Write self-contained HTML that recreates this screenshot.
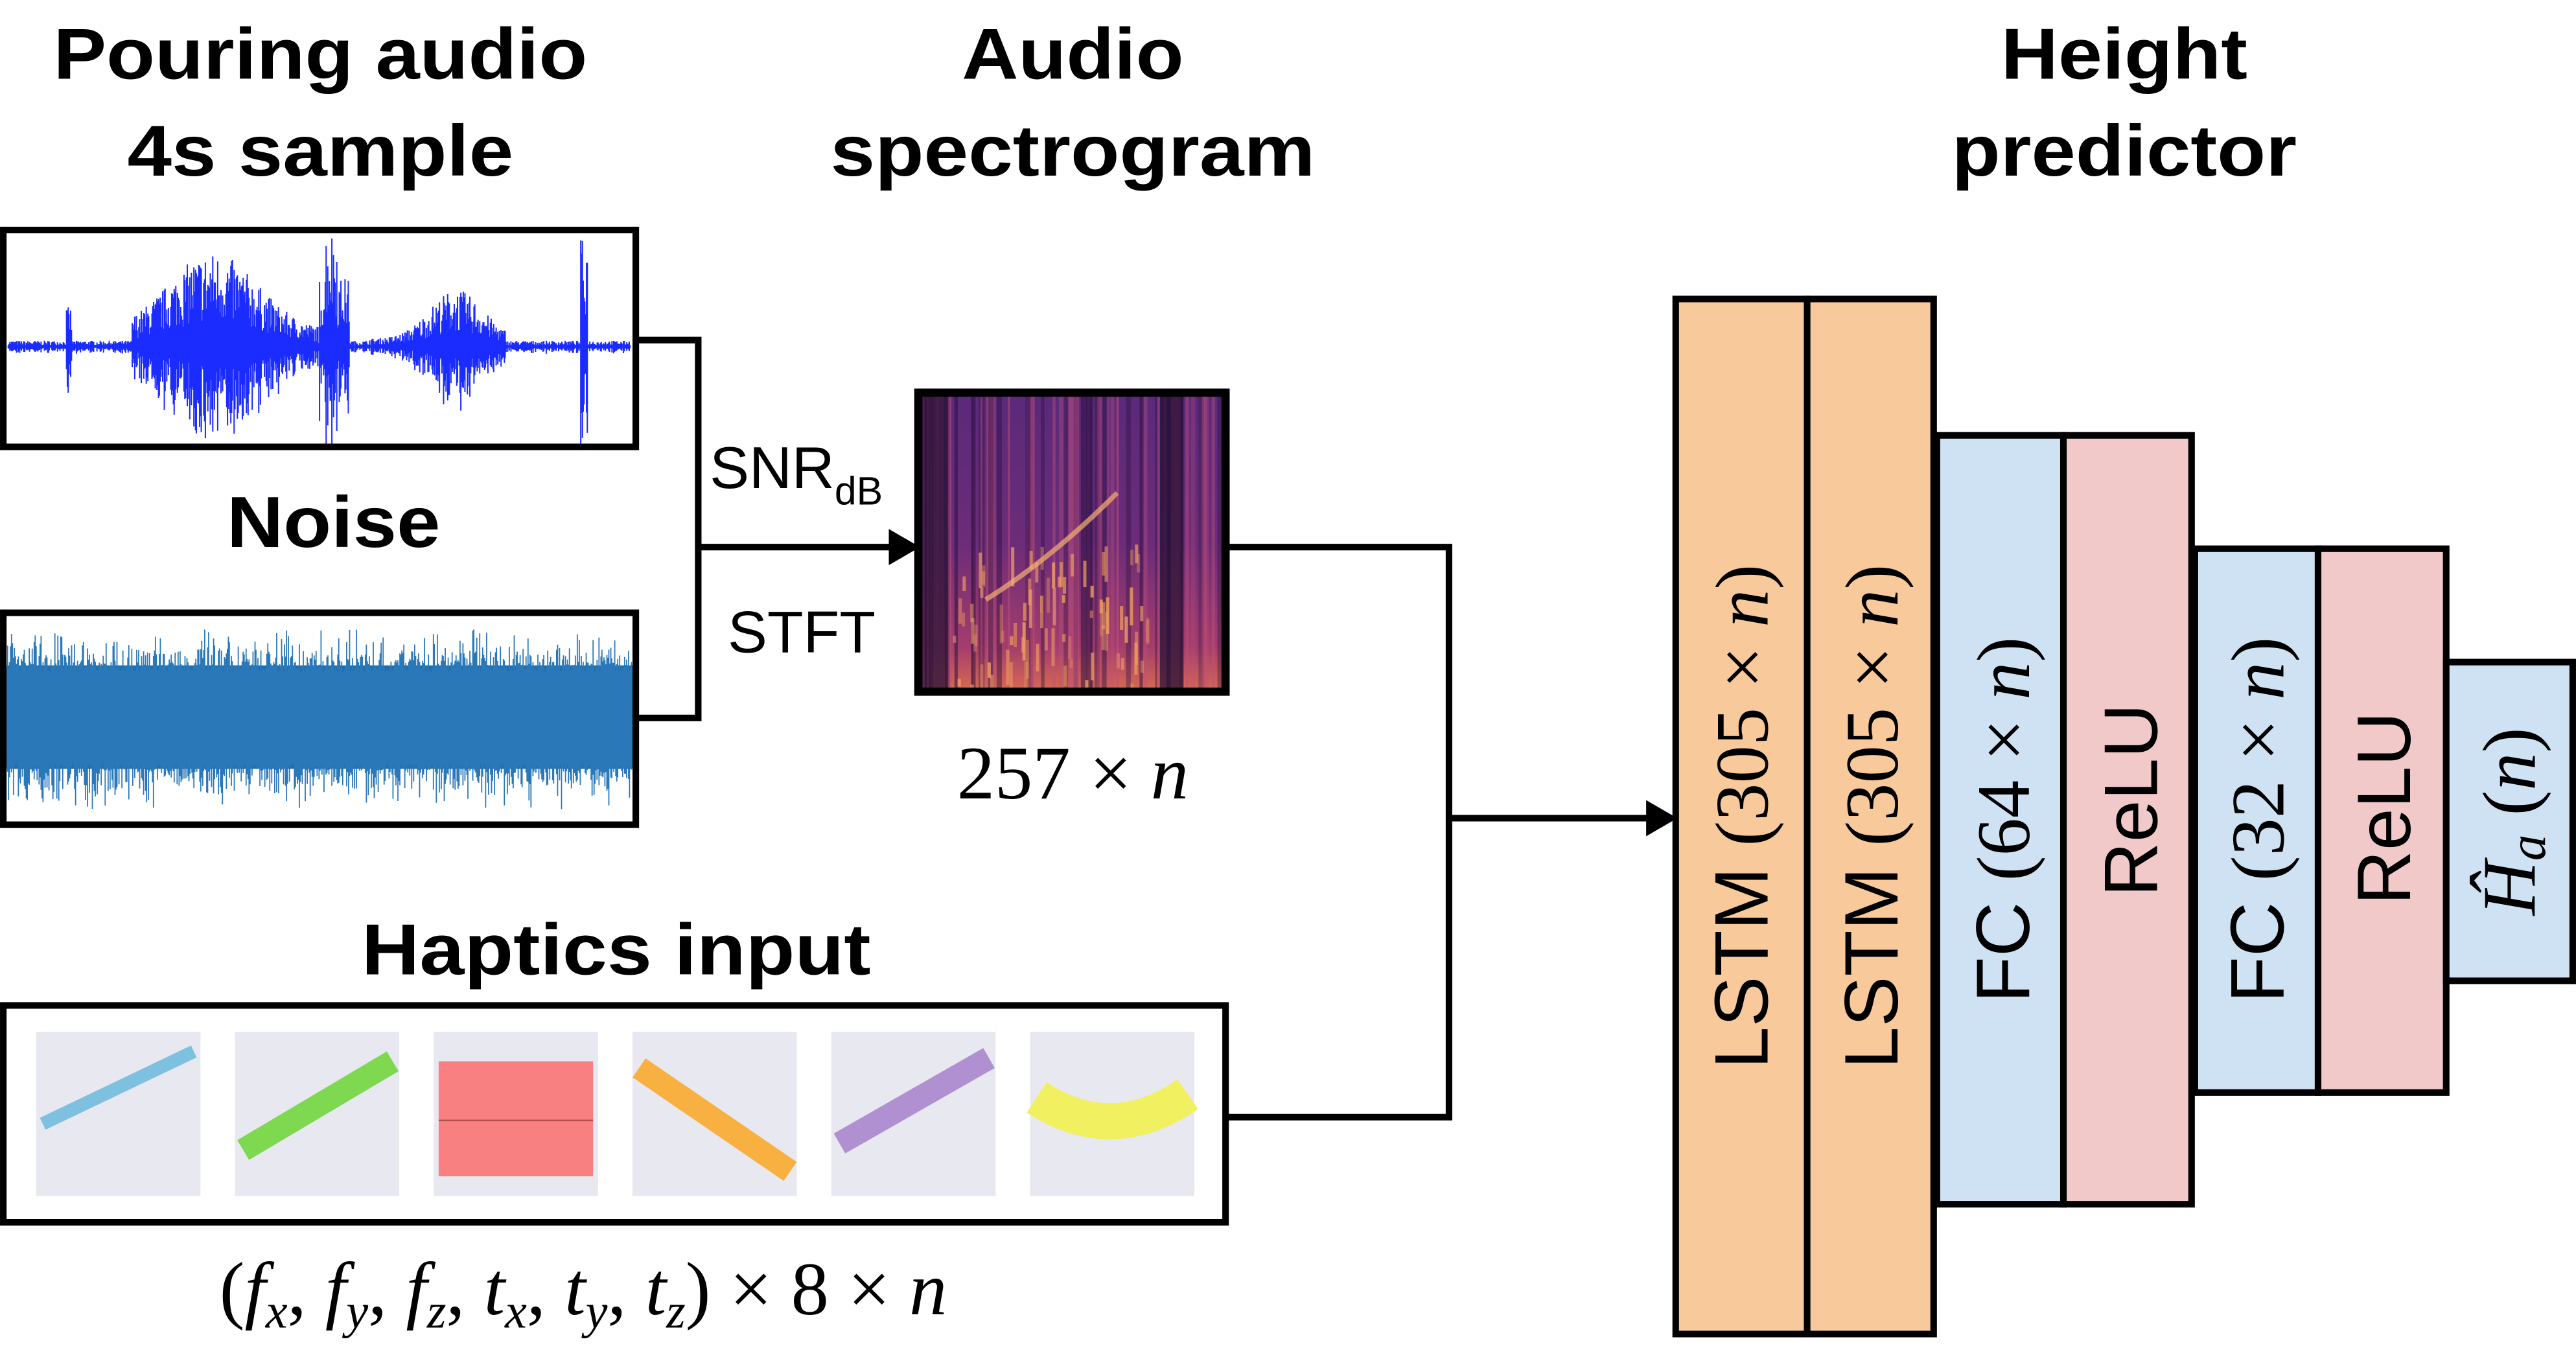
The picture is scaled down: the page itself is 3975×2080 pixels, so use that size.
<!DOCTYPE html>
<html><head><meta charset="utf-8"><style>
html,body{margin:0;padding:0;background:#fff}
svg{display:block}
.t{font-family:"Liberation Sans",sans-serif;font-weight:bold;font-size:44px;text-anchor:middle}
.s{font-family:"Liberation Sans",sans-serif;font-size:36px}
.m{font-family:"Liberation Serif",serif;font-size:46px}
.i{font-style:italic}
</style></head><body>
<svg id="sv" width="3975" height="2080" viewBox="0 0 1568 820.5" xmlns="http://www.w3.org/2000/svg">
<defs>
<linearGradient id="sg" x1="0" y1="0" x2="0" y2="1">
<stop offset="0" stop-color="#5a2a7a"/><stop offset="0.5" stop-color="#6b2c78"/><stop offset="0.85" stop-color="#a33d6c"/><stop offset="1" stop-color="#d86a50"/>
</linearGradient>
<clipPath id="c1"><rect x="2" y="140" width="385" height="132"/></clipPath>
<clipPath id="c2"><rect x="2" y="373" width="385" height="129"/></clipPath>
<clipPath id="c3"><rect x="559" y="239" width="187" height="182"/></clipPath>
</defs>
<text class="t" x="195" y="48" textLength="325" lengthAdjust="spacingAndGlyphs">Pouring audio</text>
<text class="t" x="195" y="107" textLength="235" lengthAdjust="spacingAndGlyphs">4s sample</text>
<text class="t" x="653" y="48" textLength="135" lengthAdjust="spacingAndGlyphs">Audio</text>
<text class="t" x="653" y="107" textLength="295" lengthAdjust="spacingAndGlyphs">spectrogram</text>
<text class="t" x="1293" y="48" textLength="150" lengthAdjust="spacingAndGlyphs">Height</text>
<text class="t" x="1293" y="107" textLength="210" lengthAdjust="spacingAndGlyphs">predictor</text>
<text class="t" x="203" y="333" textLength="130" lengthAdjust="spacingAndGlyphs">Noise</text>
<text class="t" x="375" y="593" textLength="310" lengthAdjust="spacingAndGlyphs">Haptics input</text>

<g id="wave1" clip-path="url(#c1)"></g>
<g id="wave2" clip-path="url(#c2)"></g>
<rect x="2" y="140" width="385" height="132" fill="none" stroke="#000" stroke-width="4"/>
<rect x="2" y="373" width="385" height="129" fill="none" stroke="#000" stroke-width="4"/>

<g fill="none" stroke="#000" stroke-width="4">
<polyline points="387,207 425,207 425,437 387,437"/>
<line x1="425" y1="333" x2="545" y2="333"/>
<polyline points="746,333 882,333 882,680 746,680"/>
<line x1="882" y1="498" x2="1008" y2="498"/>
</g>
<polygon points="541,322 560,333 541,344" fill="#000"/>
<polygon points="1002,487 1021,498 1002,509" fill="#000"/>
<text class="s" x="432" y="297">SNR<tspan font-size="24" dy="10">dB</tspan></text>
<text class="s" x="443" y="397">STFT</text>

<g clip-path="url(#c3)">
<rect x="559" y="239" width="187" height="182" fill="url(#sg)"/>
<g id="spec"></g>
</g>
<rect x="559" y="239" width="187" height="182" fill="none" stroke="#000" stroke-width="5"/>
<text class="m" x="653" y="486" text-anchor="middle">257 × <tspan class="i">n</tspan></text>

<rect x="2" y="612" width="744" height="132" fill="#fff" stroke="#000" stroke-width="4"/>
<g id="hap"></g>
<text class="m" x="355" y="800" text-anchor="middle">(<tspan class="i">f<tspan font-size="30" dy="8">x</tspan></tspan><tspan dy="-8">, </tspan><tspan class="i">f<tspan font-size="30" dy="8">y</tspan></tspan><tspan dy="-8">, </tspan><tspan class="i">f<tspan font-size="30" dy="8">z</tspan></tspan><tspan dy="-8">, </tspan><tspan class="i">t<tspan font-size="30" dy="8">x</tspan></tspan><tspan dy="-8">, </tspan><tspan class="i">t<tspan font-size="30" dy="8">y</tspan></tspan><tspan dy="-8">, </tspan><tspan class="i">t<tspan font-size="30" dy="8">z</tspan></tspan><tspan dy="-8">) × 8 × </tspan><tspan class="i">n</tspan></text>

<g stroke="#000" stroke-width="4">
<rect x="1020" y="182" width="80" height="630" fill="#f8c99b"/>
<rect x="1100" y="182" width="77" height="630" fill="#f8c99b"/>
<rect x="1179" y="265" width="77" height="468" fill="#cfe2f3"/>
<rect x="1256" y="265" width="78" height="468" fill="#f2c9c9"/>
<rect x="1336" y="334" width="75" height="331" fill="#cfe2f3"/>
<rect x="1411" y="334" width="78" height="331" fill="#f2c9c9"/>
<rect x="1489" y="403" width="77" height="194" fill="#cfe2f3"/>
</g>
<g font-size="46">
<text transform="translate(1076,497) rotate(-90)" text-anchor="middle"><tspan font-family="Liberation Sans">LSTM </tspan><tspan font-family="Liberation Serif">(305 × <tspan font-style="italic">n</tspan>)</tspan></text>
<text transform="translate(1155,497) rotate(-90)" text-anchor="middle"><tspan font-family="Liberation Sans">LSTM </tspan><tspan font-family="Liberation Serif">(305 × <tspan font-style="italic">n</tspan>)</tspan></text>
<text transform="translate(1235,499) rotate(-90)" text-anchor="middle"><tspan font-family="Liberation Sans">FC  </tspan><tspan font-family="Liberation Serif">(64 × <tspan font-style="italic">n</tspan>)</tspan></text>
<text transform="translate(1313,487) rotate(-90)" text-anchor="middle" font-family="Liberation Sans">ReLU</text>
<text transform="translate(1390,499) rotate(-90)" text-anchor="middle"><tspan font-family="Liberation Sans">FC </tspan><tspan font-family="Liberation Serif">(32 × <tspan font-style="italic">n</tspan>)</tspan></text>
<text transform="translate(1467,492) rotate(-90)" text-anchor="middle" font-family="Liberation Sans">ReLU</text>
<text transform="translate(1543,500) rotate(-90)" text-anchor="middle" font-family="Liberation Serif"><tspan font-style="italic">Ĥ<tspan font-size="32" dy="6">a</tspan></tspan><tspan dy="-6"> (</tspan><tspan font-style="italic">n</tspan>)</text>
</g>
</svg>
<script>
var NS="http://www.w3.org/2000/svg";
var seed=7;function r(){seed=(seed*16807)%2147483647;return seed/2147483647;}
function el(p,t,a){var e=document.createElementNS(NS,t);for(var k in a)e.setAttribute(k,a[k]);p.appendChild(e);return e;}
(function(){var g=document.getElementById('wave1');var d="";var cy=211;
function env(x){var f=(x-4)/380;var e=3;
 if(f>0.2&&f<0.5)e=40*Math.exp(-Math.pow((f-0.33)/0.1,2))+8;
 if(f>0.5&&f<0.55)e=35;
 if(f>0.58&&f<0.8)e=25*Math.exp(-Math.pow((f-0.72)/0.06,2))+4;
 if(Math.abs(f-0.52)<0.01)e=60; if(Math.abs(f-0.925)<0.006)e=55;if(Math.abs(f-0.1)<0.005)e=20;return e;}
for(var x=5;x<384;x+=0.5){var a=env(x)*(0.3+r()*0.9);d+="M"+x+" "+(cy-a)+"V"+(cy+a*(0.6+r()*0.6));}
el(g,'path',{d:d,stroke:'#1a2cff','stroke-width':0.8,fill:'none'});})();
(function(){var g=document.getElementById('wave2');var d="";var cy=437;
el(g,'rect',{x:4,y:405,width:381,height:63,fill:'#1f6fb0'});
for(var x=4;x<385;x+=0.6){var a=28+r()*r()*28;d+="M"+x+" "+(cy-a)+"V"+(cy+28+r()*r()*30);}
el(g,'path',{d:d,stroke:'#2a78b8','stroke-width':0.7,fill:'none'});})();
(function(){var g=document.getElementById('spec');
for(var i=0;i<60;i++){var x=559+r()*187;el(g,'rect',{x:x,y:239,width:1+r()*3,height:182,fill:r()<0.5?'#2a1040':'#c0507a',opacity:0.25+r()*0.3});}
el(g,'rect',{x:563,y:239,width:14,height:182,fill:'#1e0e30',opacity:0.7});
el(g,'rect',{x:706,y:239,width:14,height:182,fill:'#1e0e30',opacity:0.7});
for(var i=0;i<80;i++){var y=330+r()*90;el(g,'rect',{x:580+r()*120,y:y,width:2,height:4+r()*20,fill:'#f0a060',opacity:0.3+r()*0.5});}
el(g,'path',{d:'M600 365 Q640 340 680 300',stroke:'#f7b070','stroke-width':3,fill:'none',opacity:0.7});})();
(function(){var g=document.getElementById('hap');
var xs=[22,143,264,385,506,627],cols=['#7ec0e0','#7ed850','#f88080','#f8b040','#b090d0','#f0f060'];
for(var i=0;i<6;i++){var x=xs[i],y=628;el(g,'rect',{x:x,y:y,width:100,height:100,fill:'#e8e8f0'});
 var p;if(i==0)p=[[x+4,y+56],[x+96,y+12]];else if(i==1)p=[[x+5,y+72],[x+96,y+18]];else if(i==3)p=[[x+4,y+22],[x+96,y+85]];else if(i==4)p=[[x+5,y+68],[x+96,y+16]];
 if(i==2){el(g,'rect',{x:x+3,y:y+18,width:94,height:70,fill:cols[i]});el(g,'line',{x1:x+3,y1:y+54,x2:x+97,y2:y+54,stroke:'#b05050','stroke-width':1});}
 else if(i==5){el(g,'path',{d:'M'+(x+4)+' '+(y+40)+' Q'+(x+50)+' '+(y+70)+' '+(x+96)+' '+(y+38),stroke:cols[i],'stroke-width':22,fill:'none'});}
 else el(g,'line',{x1:p[0][0],y1:p[0][1],x2:p[1][0],y2:p[1][1],stroke:cols[i],'stroke-width':i==0?8:14});}
})();
</script>
</body></html>
